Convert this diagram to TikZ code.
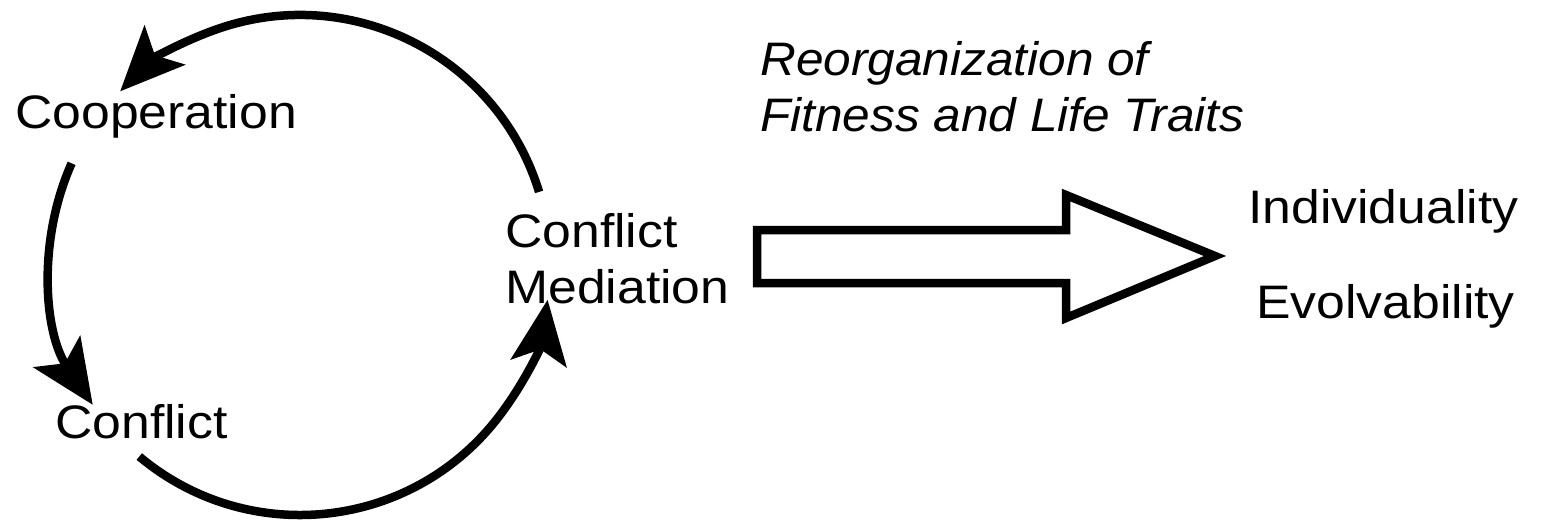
\documentclass[tikz,border=0pt]{standalone}
\usepackage{fontspec}
\setmainfont{Liberation Sans}
\usetikzlibrary{arrows.meta}
\begin{document}
\begin{tikzpicture}[x=1pt,y=1pt,
  lbl/.style={anchor=base west,inner sep=0pt,font=\fontsize{47}{56}\selectfont,xscale=1.1},
  ilbl/.style={anchor=base west,inner sep=0pt,font=\fontsize{47}{56}\selectfont\itshape,xscale=1.055},
  cyc/.style={line width=8.5pt,-{Stealth[length=64pt,width=56pt,inset=14pt]}},
  block/.style={line width=8.5pt,line join=miter,fill=white}]
\useasboundingbox (0,0) rectangle (1542,-523);
\coordinate (ctr) at (300,-265);
\node[lbl] (coop) at (15,-128) {Cooperation};
\node[lbl] (confl) at (55,-438) {Conflict};
\node[lbl] (cm1) at (505,-247) {Conflict};
\node[lbl] (cm2) at (505,-303) {Mediation};
\node[ilbl] (re1) at (760,-75) {Reorganization of};
\node[ilbl] (re2) at (760,-131) {Fitness and Life Traits};
\node[lbl] (ind) at (1248,-223) {Individuality};
\node[lbl] (evo) at (1256,-318) {Evolvability};
% cycle arcs
\coordinate (a1) at ([shift={(17:250)}]ctr);
\coordinate (a2) at ([shift={(156:250)}]ctr);
\coordinate (a3) at ([shift={(230:250)}]ctr);
\draw[cyc] (a1) arc[start angle=17,end angle=136,radius=250];
\draw[cyc] (a2) arc[start angle=156,end angle=214,radius=250];
\draw[cyc] (a3) arc[start angle=230,end angle=352,radius=250];
% block arrow
\coordinate (b0) at (757,-230);
\draw[block] (b0) -- (1066,-230) -- (1066,-195) -- (1215,-256) -- (1066,-318) -- (1066,-283) -- (757,-283) -- cycle;
\end{tikzpicture}
\end{document}
